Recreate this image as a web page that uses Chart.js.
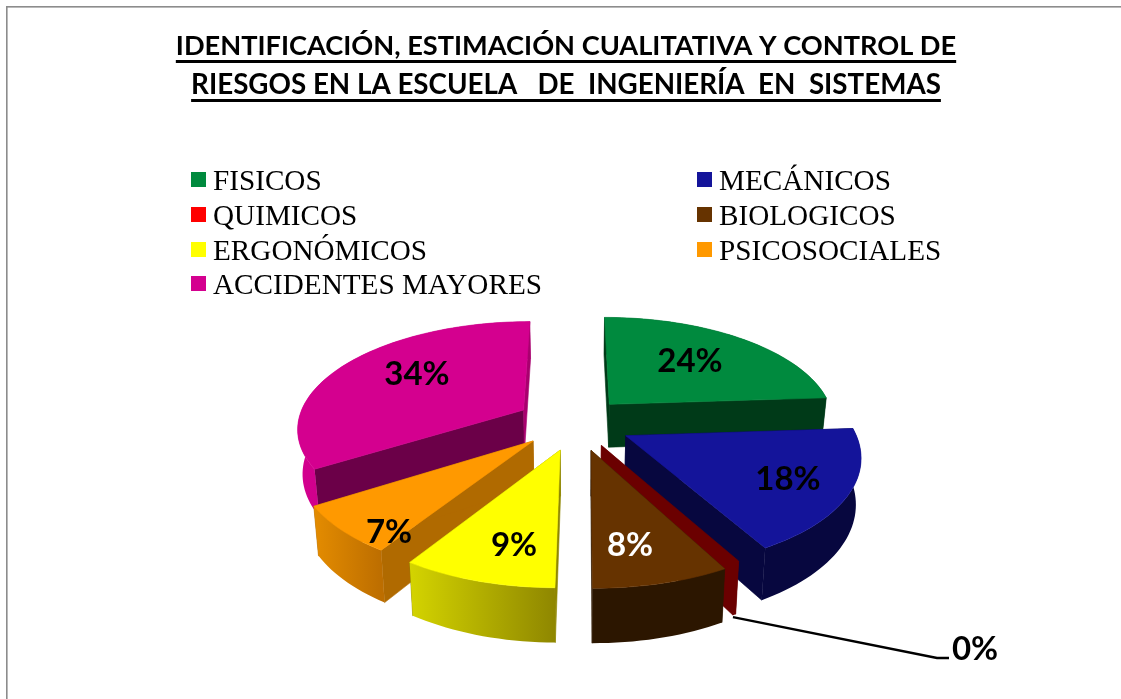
<!DOCTYPE html>
<html><head><meta charset="utf-8">
<style>html,body{margin:0;padding:0;background:#fff}#w{width:1121px;height:699px}</style>
<script src="https://cdn.jsdelivr.net/npm/chart.js@4"></script>
</head><body><div id="w"><canvas id="c" width="1121" height="699"></canvas></div>
<script>
const categories = ['FISICOS','MECÁNICOS','QUIMICOS','BIOLOGICOS','ERGONÓMICOS','PSICOSOCIALES','ACCIDENTES MAYORES'];
const shares = [24,18,0.2,8,9,7,34];
const titleLines = ['IDENTIFICACIÓN, ESTIMACIÓN CUALITATIVA Y CONTROL DE','RIESGOS EN LA ESCUELA   DE  INGENIERÍA  EN  SISTEMAS'];
const titleSizes = [27.2,27.75];
const topColors = ['#008a3e','#14149a','#ff0000','#663300','#ffff00','#ff9900','#d4008f'];
const radialColors = ['#003a18','#07073f','#6b0000','#2c1600','#8f8700','#b06a00','#6b0048'];
const endWallColors = ['#003a18','#07073f','#6b0000','#2c1600','#8f8700','#b06a00','#a8006e'];
const outerLeft = ['#003a18','#07073f','#6b0000','#2c1600','#d4d400','#e48c00','#d4008f'];
const outerRight = ['#003a18','#07073f','#6b0000','#2c1600','#8f8700','#bd6e00','#a8006e'];
const explode = [53,60,55,60,60,56,54];
const sliceNudgeX = [1,-1,1,3,5,1,-3];
const labelAnchors = [[690,361],[788,479],[975,649],[630,545],[514,545],[389,532],[417,374]];
const labelColors = ['#000','#000','#000','#fff','#000','#000','#000'];
const legendCols = [191,697], legendRows = [172,207,242,276];

const CX=573, CY=422, K=0.4685, P=0.0007, H=44, SHRINK=0.018, RADIUS=226;
function proj(u,v,z,dx){
  const s=1/(1-P*v); let x=CX+u*s, y=CY+v*K*s;
  if(z){x=CX+(x-CX)*(1-SHRINK); y+=H*s;}
  return [x+(dx||0),y];
}
function poly(ctx,pts,fill){
  ctx.beginPath(); pts.forEach((p,i)=>i?ctx.lineTo(p[0],p[1]):ctx.moveTo(p[0],p[1]));
  ctx.closePath(); ctx.fillStyle=fill; ctx.fill();
  ctx.strokeStyle=fill; ctx.lineWidth=0.6; if(typeof fill==='string')ctx.stroke();
}
function geom(arc){
  const a0=arc.startAngle,a1=arc.endAngle,m=(a0+a1)/2,off=arc.options.offset,R=arc.outerRadius;
  const ou=off*Math.cos(m),ov=off*Math.sin(m);
  const n=Math.max(2,Math.ceil((a1-a0)/0.03)),rim=[];
  for(let j=0;j<=n;j++){const a=a0+(a1-a0)*j/n;rim.push([ou+R*Math.cos(a),ov+R*Math.sin(a)]);}
  return {ou,ov,rim,v:Math.sin(m)};
}
const pie3d={id:'pie3d',
  beforeDraw(chart){
    const c=chart.ctx;c.save();c.fillStyle='#fff';c.fillRect(0,0,1121,699);
    c.fillStyle='#8c8c8c';c.fillRect(6,6,1115,1.6);c.fillRect(6,6,1.6,693);c.restore();
  },
  beforeDatasetsDraw(chart){
    const c=chart.ctx,arcs=chart.getDatasetMeta(0).data;
    const items=arcs.map((a,i)=>({i,g:geom(a)})).sort((p,q)=>p.g.v-q.g.v);
    c.save();
    for(const {i,g} of items){
      const dx=sliceNudgeX[i];
      const rimT=g.rim.map(p=>proj(p[0],p[1],0,dx)),rimB=g.rim.map(p=>proj(p[0],p[1],1,dx));
      const aT=proj(g.ou,g.ov,0,dx),aB=proj(g.ou,g.ov,1,dx);
      const L=rimT.length-1;
      poly(c,[aT,rimT[0],rimB[0],aB],radialColors[i]);
      poly(c,[aT,rimT[L],rimB[L],aB],endWallColors[i]);
      const xs=rimT.map(p=>p[0]),gr=c.createLinearGradient(Math.min(...xs),0,Math.max(...xs),0);
      gr.addColorStop(0,outerLeft[i]);gr.addColorStop(1,outerRight[i]);
      poly(c,rimT.concat(rimB.slice().reverse()),gr);
      if(shares[i]>=1) poly(c,[aT].concat(rimT),topColors[i]);
    }
    c.restore();
    return false;
  },
  afterDraw(chart){
    const c=chart.ctx;c.save();
    c.textAlign='center';c.textBaseline='middle';c.font='bold 33px Lato';
    shares.forEach((v,i)=>{c.fillStyle=labelColors[i];c.fillText(Math.round(v)+'%',labelAnchors[i][0],labelAnchors[i][1]);});
    const red=geom(chart.getDatasetMeta(0).data[2]),end=red.rim[red.rim.length-1],st=proj(end[0],end[1],1,sliceNudgeX[2]);
    c.strokeStyle='#000';c.lineWidth=2.4;c.beginPath();c.moveTo(st[0],st[1]+2);c.lineTo(937,658);c.lineTo(949,658);c.stroke();
    c.textAlign='left';c.textBaseline='alphabetic';c.font='29.2px "Liberation Serif"';
    categories.forEach((t,i)=>{
      const col=i%2,row=(i-col)/2,x=legendCols[col],y=legendRows[row];
      c.fillStyle=topColors[i];c.fillRect(x,y,15,15);
      c.fillStyle='#000';c.fillText(t,x+22,y+18);
    });
    c.fillStyle='#000';
    [60,99].forEach((y,i)=>{c.font='bold '+titleSizes[i]+'px Lato';const w=c.measureText(titleLines[i]).width;c.fillRect(566-w/2,y,w,3);});
    c.restore();
  }
};
Chart.defaults.font.family='Lato';
new Chart(document.getElementById('c'),{
  type:'pie',
  data:{labels:categories,datasets:[{data:shares,backgroundColor:topColors,offset:explode,borderWidth:0}]},
  plugins:[pie3d],
  options:{responsive:false,animation:false,radius:RADIUS,
    layout:{padding:{left:11,top:27}},
    plugins:{legend:{display:false},tooltip:{enabled:false},
      title:{display:true,text:titleLines[0],color:'#000',font:{family:'Lato',weight:'bold',size:titleSizes[0],lineHeight:1.434},padding:0},
      subtitle:{display:true,text:titleLines[1],color:'#000',font:{family:'Lato',weight:'bold',size:titleSizes[1],lineHeight:1.406},padding:0}}}
});
</script></body></html>
